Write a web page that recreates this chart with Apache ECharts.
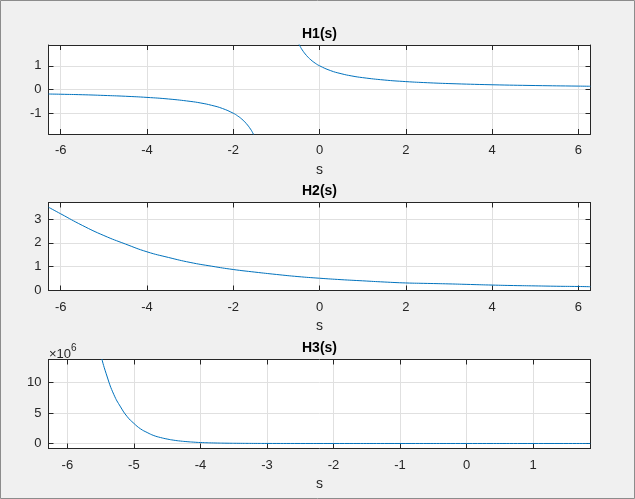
<!DOCTYPE html>
<html>
<head>
<meta charset="utf-8">
<script src="https://cdn.jsdelivr.net/npm/echarts@6/dist/echarts.min.js"></script>
<style>
html,body{margin:0;padding:0;background:#f0f0f0;}
#c{width:635px;height:499px;}
</style>
</head>
<body>
<div id="c"></div>
<script>
// ---- data ----
const titles = ['H1(s)', 'H2(s)', 'H3(s)'];
const xName = 's';

// H1(s): two branches, gap in between (null)
const h1X = [-6.2832, -6, -5.5, -5, -4.5, -4, -3.5, -3, -2.75, -2.5, -2.25, -2, -1.9, -1.8, -1.7, -1.6, -1.55, -1.5,
             -1,
             -0.5, -0.45, -0.4, -0.3, -0.2, -0.1, 0, 0.25, 0.5, 0.75, 1, 1.5, 2, 2.5, 3, 4, 5, 6, 6.2832];
const h1Y = [-0.19, -0.2, -0.22, -0.25, -0.285, -0.333, -0.4, -0.5, -0.57, -0.667, -0.8, -1.0, -1.11, -1.25, -1.43, -1.667, -1.82, -2.0,
             null,
             2.0, 1.82, 1.667, 1.43, 1.25, 1.11, 1.0, 0.8, 0.667, 0.57, 0.5, 0.4, 0.333, 0.286, 0.25, 0.2, 0.167, 0.143, 0.137];

// H2(s)
const h2X = [-6.2832, -6, -5.5, -5, -4.5, -4, -3.5, -3, -2.5, -2, -1.5, -1, -0.5, 0, 0.5, 1, 1.5, 2, 2.5, 3, 3.5, 4, 4.5, 5, 5.5, 6, 6.2832];
const h2Y = [3.51, 3.23, 2.74, 2.31, 1.95, 1.62, 1.38, 1.17, 1.01, 0.87, 0.76, 0.66, 0.57, 0.50, 0.44, 0.39, 0.34, 0.30, 0.28, 0.26, 0.235, 0.21, 0.19, 0.175, 0.16, 0.15, 0.14];

// H3(s), values in units of 1e6
const h3X = [-5.6, -5.5, -5.4, -5.3, -5.2, -5.1, -5.0, -4.9, -4.8, -4.7, -4.6, -4.5, -4.4, -4.3, -4.2, -4.1, -4.0, -3.8, -3.6, -3.4, -3.2, -3.0, -2.5, -2.0, -1.0, 0, 1.0, 1.86];
const h3Y = [19.9, 14.7, 10.9, 8.0, 6.0, 4.4, 3.3, 2.4, 1.8, 1.3, 0.98, 0.73, 0.54, 0.40, 0.30, 0.22, 0.16, 0.09, 0.05, 0.03, 0.015, 0.008, 0.002, 0, 0, 0, 0, 0];

// tick values
const x12Ticks = [-6, -4, -2, 0, 2, 4, 6];
const x3Ticks = [-6, -5, -4, -3, -2, -1, 0, 1];
const y1Ticks = [-1, 0, 1];
const y2Ticks = [0, 1, 2, 3];
const y3Ticks = [0, 5, 10];
const y3Exponent = '6';

// ---- layout / style ----
const FONT = '"Liberation Sans", Arial, Helvetica, sans-serif';
const AX = '#262626';
const GRIDC = '#e0e0e0';
const LINE = '#0072BD';

const grids = [
  {left: 48.5, top: 45, width: 542, height: 89},
  {left: 48.5, top: 202.5, width: 542, height: 88},
  {left: 48.5, top: 359.5, width: 542, height: 89}
];
const xRanges = [[-6.2832, 6.2832], [-6.2832, 6.2832], [-6.2832, 1.863]];
const yRanges = [[-1.875, 1.875], [-0.02, 3.71], [-0.82, 13.77]];
const xTicks = [x12Ticks, x12Ticks, x3Ticks];
const yTicks = [y1Ticks, y2Ticks, y3Ticks];

const xAxis = [], yAxis = [];
for (let i = 0; i < 3; i++) {
  xAxis.push({
    type: 'value', gridIndex: i, position: 'bottom',
    min: xRanges[i][0], max: xRanges[i][1],
    name: xName, nameLocation: 'middle', nameGap: 29,
    nameTextStyle: {color: AX, fontFamily: FONT, fontSize: 14},
    axisLine: {show: true, onZero: false, lineStyle: {color: AX, width: 1}},
    axisTick: {show: true, inside: true, length: 5, customValues: xTicks[i], lineStyle: {color: AX}},
    axisLabel: {show: true, customValues: xTicks[i], margin: 10, color: AX, fontFamily: FONT, fontSize: 13},
    splitLine: {show: true, lineStyle: {color: GRIDC, width: 1}}
  });
  yAxis.push({
    type: 'value', gridIndex: i, position: 'left',
    min: yRanges[i][0], max: yRanges[i][1],
    axisLine: {show: true, onZero: false, lineStyle: {color: AX, width: 1}},
    axisTick: {show: true, inside: true, length: 5, customValues: yTicks[i], lineStyle: {color: AX}},
    axisLabel: {show: true, customValues: yTicks[i], margin: 7, color: AX, fontFamily: FONT, fontSize: 13},
    splitLine: {show: true, lineStyle: {color: GRIDC, width: 1}}
  });
}
for (let i = 0; i < 3; i++) {
  xAxis.push({
    type: 'value', gridIndex: i, position: 'top',
    min: xRanges[i][0], max: xRanges[i][1],
    axisLine: {show: true, onZero: false, lineStyle: {color: AX, width: 1}},
    axisTick: {show: true, inside: true, length: 5, customValues: xTicks[i], lineStyle: {color: AX}},
    axisLabel: {show: false},
    splitLine: {show: false}
  });
  yAxis.push({
    type: 'value', gridIndex: i, position: 'right',
    min: yRanges[i][0], max: yRanges[i][1],
    axisLine: {show: true, onZero: false, lineStyle: {color: AX, width: 1}},
    axisTick: {show: true, inside: true, length: 5, customValues: yTicks[i], lineStyle: {color: AX}},
    axisLabel: {show: false},
    splitLine: {show: false}
  });
}

function pairs(xs, ys) {
  return xs.map((x, k) => [x, ys[k] === null ? '-' : ys[k]]);
}
const seriesData = [pairs(h1X, h1Y), pairs(h2X, h2Y), pairs(h3X, h3Y)];

const series = seriesData.map((d, i) => ({
  type: 'line', xAxisIndex: i, yAxisIndex: i, data: d,
  showSymbol: false, symbol: 'none', smooth: 0.5,
  connectNulls: false, clip: true, silent: true, animation: false,
  lineStyle: {color: LINE, width: 1}
}));

const graphic = [
  {type: 'rect', shape: {x: 0.5, y: 0.5, width: 634, height: 498}, style: {fill: 'none', stroke: '#8c8c8c', lineWidth: 1}, silent: true}
];
const titleY = [34, 191, 348];
titles.forEach((t, i) => {
  graphic.push({type: 'text', x: grids[i].left + grids[i].width / 2, y: titleY[i],
    style: {text: t, align: 'center', verticalAlign: 'middle', fill: '#000', font: 'bold 14px ' + FONT}, silent: true});
});
graphic.push({type: 'text', x: 49, y: 352,
  style: {text: '{a|\u00d710}{b|' + y3Exponent + '}', verticalAlign: 'middle', align: 'left',
    rich: {a: {fill: AX, fontFamily: FONT, fontSize: 13, verticalAlign: 'bottom'},
           b: {fill: AX, fontFamily: FONT, fontSize: 10, verticalAlign: 'top', padding: [0, 0, 8, 0]}}}, silent: true});

const chart = echarts.init(document.getElementById('c'), null, {renderer: 'canvas'});
chart.setOption({
  backgroundColor: '#f0f0f0',
  animation: false,
  grid: grids.map(g => Object.assign({show: true, backgroundColor: '#ffffff', borderWidth: 0, containLabel: false}, g)),
  xAxis, yAxis, series, graphic
});
</script>
</body>
</html>
